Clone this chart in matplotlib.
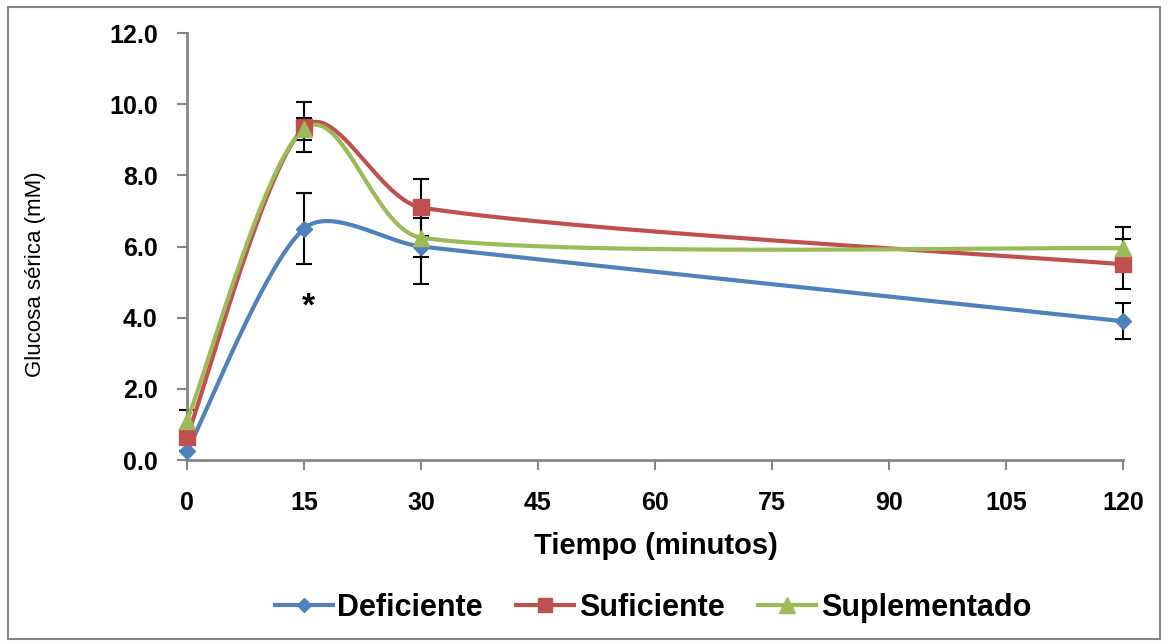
import matplotlib
matplotlib.use("Agg")
import matplotlib.pyplot as plt
import numpy as np
from matplotlib.patches import Rectangle

plt.rcParams['font.family'] = ['Liberation Sans', 'DejaVu Sans']

# datos
tiempo = [0, 15, 30, 120]
deficiente = [0.25, 6.5, 6.0, 3.9]
deficiente_err = [0.0, 1.0, 1.05, 0.5]
suficiente = [0.65, 9.35, 7.1, 5.5]
suficiente_err = [0.0, 0.7, 0.8, 0.7]
suplementado = [1.1, 9.3, 6.25, 5.95]
suplementado_err = [0.3, 0.3, 0.55, 0.6]

series = ['Deficiente', 'Suficiente', 'Suplementado']
colores = ['#4F81BD', '#C0504D', '#9BBB59']
marcas = ['D', 's', '^']
tam = [8, 11, 12]

xticks = [0, 15, 30, 45, 60, 75, 90, 105, 120]
yticks = [0, 2, 4, 6, 8, 10, 12]

W, H = 1169, 641
x0p, x1p, y0p, y1p = 187, 1123, 460, 33
sx_px = (x1p - x0p) / 120.0
sy_px = (y0p - y1p) / 12.0


def suavizar(x, y, n=80, k=0.3):
    # linea suavizada estilo Excel: bezier, tangentes en pixeles
    P = np.column_stack([np.asarray(x, float) * sx_px, np.asarray(y, float) * sy_px])
    m = len(P)
    tang, largo = [], []
    for i in range(m):
        d = P[min(i + 1, m - 1)] - P[max(i - 1, 0)]
        tang.append(d / np.hypot(*d))
        largo.append(np.hypot(*d) / 6)
    out = []
    t = np.linspace(0, 1, n)[:, None]
    for i in range(m - 1):
        L = np.hypot(*(P[i + 1] - P[i]))
        c1 = P[i] + min(k * L, largo[i]) * tang[i]
        c2 = P[i + 1] - min(k * L, largo[i + 1]) * tang[i + 1]
        B = (1-t)**3*P[i] + 3*(1-t)**2*t*c1 + 3*(1-t)*t**2*c2 + t**3*P[i+1]
        out.append(B)
    out = np.vstack(out)
    return out[:, 0] / sx_px, out[:, 1] / sy_px


fig = plt.figure(figsize=(W/100, H/100), dpi=100)
ax = fig.add_axes([x0p/W, 1-y0p/H, (x1p-x0p)/W, (y0p-y1p)/H])

datos = [deficiente, suficiente, suplementado]
errores = [deficiente_err, suficiente_err, suplementado_err]
for nombre, yv, ev, c, m, s in zip(series, datos, errores, colores, marcas, tam):
    cx, cy = suavizar(tiempo, yv)
    ax.plot(cx, cy, color=c, lw=3, zorder=3, clip_on=False)
    ax.errorbar(tiempo, yv, yerr=ev, fmt='none', ecolor='black', elinewidth=1.5,
                capsize=6, capthick=1.5, zorder=2, clip_on=False)
    ax.plot(tiempo, yv, linestyle='none', marker=m, markersize=s, color=c, zorder=4,
            clip_on=False)
    ax.plot([], [], color=c, lw=3, marker=m, markersize=s - 1, label=nombre)

ax.text(15.6, 4.3, '*', ha='center', va='center', fontsize=24, fontweight='bold')

ax.set_xlim(0, 120)
ax.set_ylim(0, 12)
ax.set_xticks(xticks)
ax.set_yticks(yticks)
ax.set_yticklabels(['%.1f' % v for v in yticks])
ax.spines['top'].set_visible(False)
ax.spines['right'].set_visible(False)
for sp in ['left', 'bottom']:
    ax.spines[sp].set_color('#868686')
    ax.spines[sp].set_linewidth(2)
ax.tick_params(axis='both', direction='out', color='#868686', width=1.5, length=7,
               labelsize=18)
for lb in ax.get_xticklabels() + ax.get_yticklabels():
    lb.set_fontweight('bold')
ax.tick_params(axis='y', pad=14)
ax.tick_params(axis='x', pad=15)

fig.text(656/W, 1-546/H, 'Tiempo (minutos)', ha='center', va='center',
         fontsize=21, fontweight='bold')
fig.text(36/W, 1-274/H, 'Glucosa sérica (mM)', ha='center', va='center',
         rotation=90, fontsize=16)

fig.legend(loc='center', bbox_to_anchor=(653/W, 1-608/H), ncol=3, frameon=False,
           prop={'size': 22, 'weight': 'bold'}, handlelength=1.9, handletextpad=0.15,
           columnspacing=1.1)

fig.patches.append(Rectangle((8/W, 2/H), 1152/W, 1-9/H, transform=fig.transFigure,
                             fill=False, edgecolor='#868686', lw=1.5))

fig.savefig('out.png', dpi=100)
